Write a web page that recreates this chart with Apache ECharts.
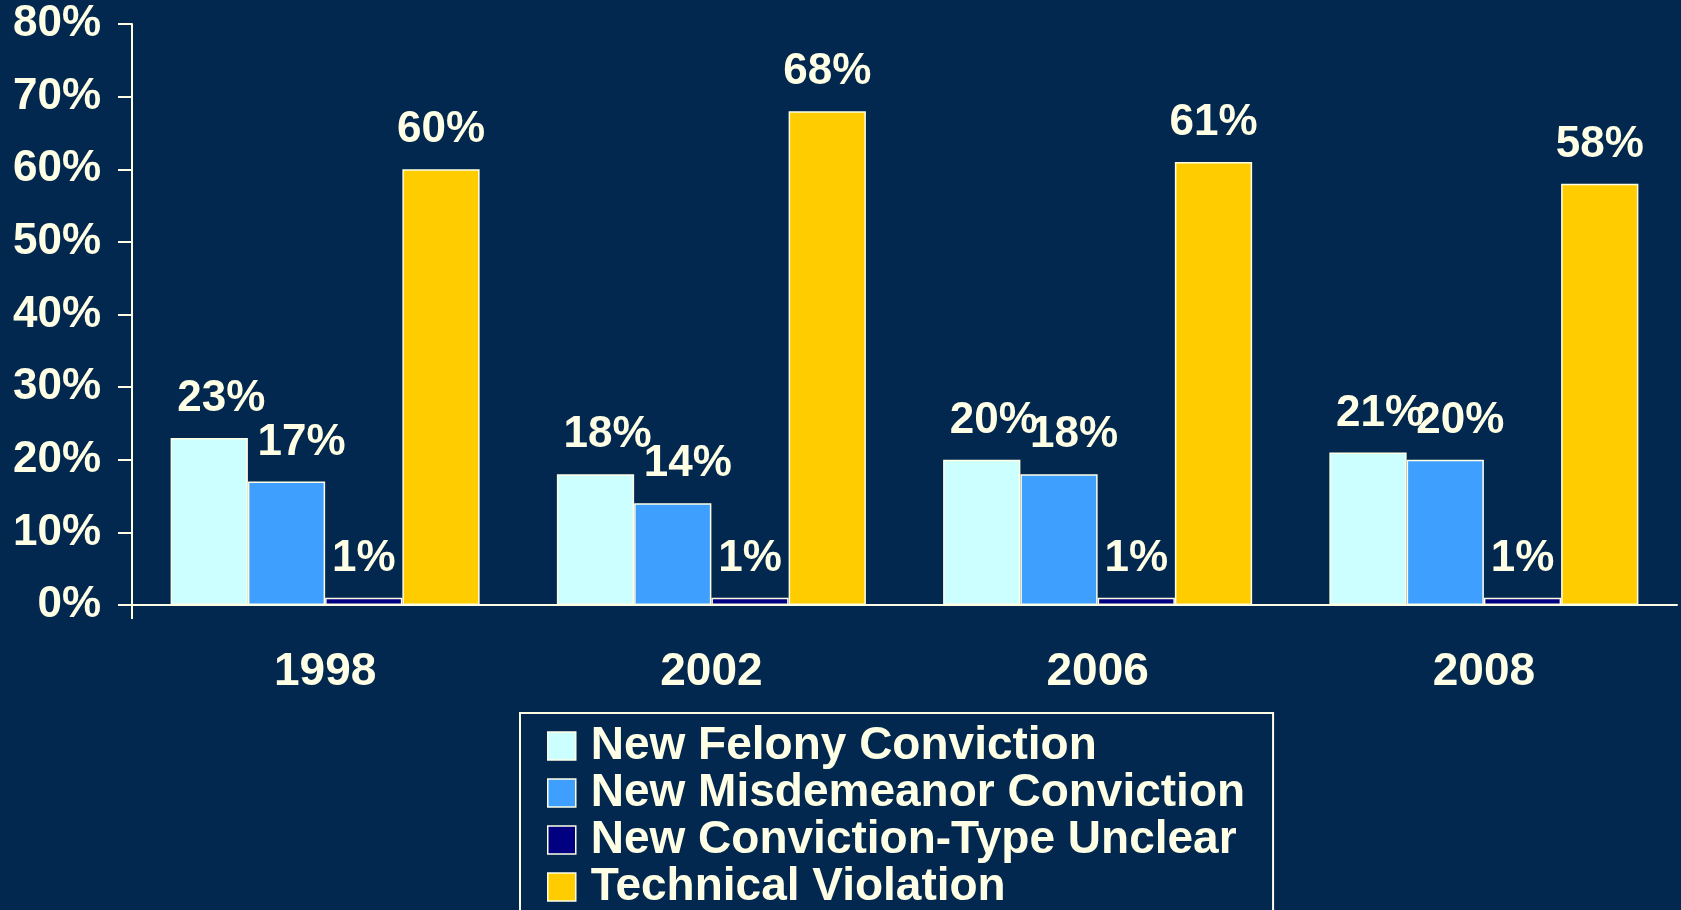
<!DOCTYPE html>
<html>
<head>
<meta charset="utf-8">
<script src="https://cdn.jsdelivr.net/npm/echarts@6/dist/echarts.min.js"></script>
<style>
    html, body { margin: 0; padding: 0; background: #03284f; }
    #chart { width: 1681px; height: 910px; }
</style>
</head>
<body>
<div id="chart"></div>
<script>
// data
var years = ['1998', '2002', '2006', '2008'];
var felony = [23, 18, 20, 21];
var misdemeanor = [17, 14, 18, 20];
var unclear = [1, 1, 1, 1];
var technical = [60, 68, 61, 58];
var seriesNames = ['New Felony Conviction', 'New Misdemeanor Conviction', 'New Conviction-Type Unclear', 'Technical Violation'];

var cream = '#ffffe6';
var font = "'Liberation Sans', Arial, sans-serif";

function makeBar(name, data, color, offset) {
    return {
        name: name,
        type: 'bar',
        data: data,
        barGap: '0%',
        barCategoryGap: '20%',
        itemStyle: { color: color, borderColor: cream, borderWidth: 1.5 },
        label: {
            show: true,
            position: 'top',
            distance: 17,
            offset: offset,
            formatter: '{c}%',
            color: cream,
            fontFamily: font,
            fontWeight: 'bold',
            fontSize: 44
        }
    };
}

var myChart = echarts.init(document.getElementById('chart'));
var option = {
    backgroundColor: '#03284f',
    animation: false,
    grid: { left: 132, right: 4, top: 24, bottom: 305 },
    legend: {
        orient: 'vertical',
        left: 520,
        top: 713,
        height: 400,
        padding: [10, 28, 30, 27],
        itemGap: 1,
        itemWidth: 28,
        itemHeight: 28,
        borderColor: cream,
        borderWidth: 2,
        icon: 'rect',
        itemStyle: { borderColor: cream, borderWidth: 1.5 },
        textStyle: {
            color: cream,
            fontFamily: font,
            fontWeight: 'bold',
            fontSize: 46,
            padding: [0, 0, 0, 10]
        },
        data: seriesNames
    },
    xAxis: {
        type: 'category',
        data: years,
        axisLine: { lineStyle: { color: cream, width: 2 } },
        axisTick: { show: false },
        axisLabel: {
            margin: 44,
            color: cream,
            fontFamily: font,
            fontWeight: 'bold',
            fontSize: 46
        }
    },
    yAxis: {
        type: 'value',
        min: 0,
        max: 80,
        interval: 10,
        splitLine: { show: false },
        axisLine: { show: true, lineStyle: { color: cream, width: 2 } },
        axisTick: { show: true, length: 14, lineStyle: { color: cream, width: 2 } },
        axisLabel: {
            margin: 31,
            formatter: '{value}%',
            color: cream,
            fontFamily: font,
            fontWeight: 'bold',
            fontSize: 44
        }
    },
    series: [
        makeBar(seriesNames[0], felony, '#ccffff', [12, 0]),
        makeBar(seriesNames[1], misdemeanor, '#3f9fff', [15, 0]),
        makeBar(seriesNames[2], unclear, '#000080', [0, 0]),
        makeBar(seriesNames[3], technical, '#ffcc00', [0, 0])
    ]
};
myChart.setOption(option);

// the value axis line runs a little below the origin in the original
var origin = myChart.convertToPixel({ gridIndex: 0 }, [0, 0]);
var gridRect = myChart.getModel().getComponent('grid', 0).coordinateSystem.getRect();
myChart.setOption({
    graphic: [{
        type: 'line',
        shape: { x1: gridRect.x, y1: gridRect.y + gridRect.height, x2: gridRect.x, y2: gridRect.y + gridRect.height + 14 },
        style: { stroke: cream, lineWidth: 2 }
    }]
});
</script>
</body>
</html>
